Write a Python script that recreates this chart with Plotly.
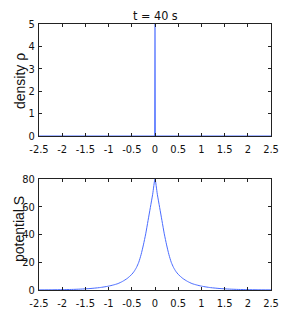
import plotly.graph_objects as go

# density rho (spike at x = 0)
rho_x = [-2.5, -0.005, 0.0, 0.005, 2.5]
rho_y = [0.0, 0.0, 5.0, 0.0, 0.0]

# potential S (symmetric about 0)
s_xpos = [0.0, 0.05, 0.1, 0.15, 0.2, 0.25, 0.3, 0.35, 0.4, 0.45, 0.5,
          0.6, 0.7, 0.8, 0.9, 1.0, 1.1, 1.2, 1.4, 1.6, 1.8, 2.0, 2.2, 2.5]
s_vpos = [80.0, 69.0, 59.5, 50.0, 40.5, 32.5, 25.5, 20.0, 16.2, 13.4, 11.3,
          8.3, 6.2, 4.6, 3.6, 2.8, 2.2, 1.7, 1.05, 0.65, 0.4, 0.25, 0.15, 0.08]

x_ticks = [-2.5, -2, -1.5, -1, -0.5, 0, 0.5, 1, 1.5, 2, 2.5]
x_ticktext = ["-2.5", "-2", "-1.5", "-1", "-0.5", "0", "0.5", "1", "1.5", "2", "2.5"]
rho_ticks = [0, 1, 2, 3, 4, 5]
s_ticks = [0, 20, 40, 60, 80]

s_x = [-v for v in reversed(s_xpos[1:])] + s_xpos
s_y = list(reversed(s_vpos[1:])) + s_vpos

line_color = "#4a6cff"
font_fam = "Liberation Sans Narrow, DejaVu Sans Condensed, Liberation Sans, Arial, sans-serif"

fig = go.Figure()
fig.add_trace(go.Scatter(x=rho_x, y=rho_y, mode="lines",
                         line=dict(color=line_color, width=1.2),
                         xaxis="x", yaxis="y"))
fig.add_trace(go.Scatter(x=s_x, y=s_y, mode="lines",
                         line=dict(color=line_color, width=1, shape="spline", smoothing=0.6),
                         xaxis="x2", yaxis="y2"))

# the page adds an 8 px body margin, so the figure is 8 px smaller and shifted
OFF = 8
W, H = 300 - OFF, 327 - OFF


def px(xp):
    return (xp - OFF) / W


def py(yp):
    return (H - (yp - OFF)) / H


xd = [px(39), px(271)]
yd1 = [py(136), py(24)]
yd2 = [py(290), py(179)]

axis_common = dict(showline=True, linecolor="#222", linewidth=1, mirror="allticks",
                   ticks="inside", ticklen=3, tickcolor="#222", showgrid=False,
                   zeroline=False, automargin=False,
                   tickfont=dict(family=font_fam, size=11, color="#111"))

label_font = dict(family="Liberation Sans, Arial", color="#111")

fig.update_layout(
    width=W, height=H, margin=dict(l=0, r=0, t=0, b=0, autoexpand=False),
    paper_bgcolor="white", plot_bgcolor="white", showlegend=False,
    xaxis=dict(domain=xd, anchor="y", range=[-2.5, 2.5], tickvals=x_ticks,
               ticktext=x_ticktext, ticklabelstandoff=3, **axis_common),
    yaxis=dict(domain=yd1, anchor="x", range=[0, 5], tickvals=rho_ticks,
               ticklabelstandoff=1, **axis_common),
    xaxis2=dict(domain=xd, anchor="y2", range=[-2.5, 2.5], tickvals=x_ticks,
                ticktext=x_ticktext, ticklabelstandoff=3, **axis_common),
    yaxis2=dict(domain=yd2, anchor="x2", range=[0, 80], tickvals=s_ticks,
                ticklabelstandoff=1, **axis_common),
    annotations=[
        dict(text="t = 40 s", x=(xd[0] + xd[1]) / 2, y=py(15.5),
             xref="paper", yref="paper", showarrow=False,
             xanchor="center", yanchor="middle",
             font=dict(family=font_fam, size=12.5, color="#111")),
        dict(text="density ρ", x=px(20), y=py(81), textangle=-90,
             xref="paper", yref="paper", showarrow=False,
             xanchor="center", yanchor="middle",
             font=dict(size=14, **label_font)),
        dict(text="potential S", x=px(19), y=py(229), textangle=-90,
             xref="paper", yref="paper", showarrow=False,
             xanchor="center", yanchor="middle",
             font=dict(size=14, **label_font)),
    ],
)

fig.write_html("out.html")
